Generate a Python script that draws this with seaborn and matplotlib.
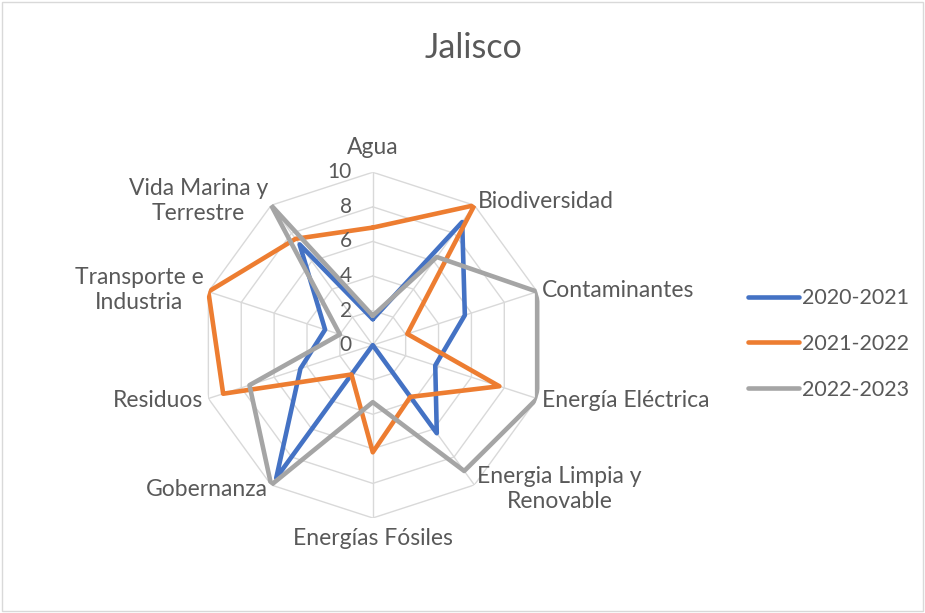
import numpy as np
import pandas as pd
import seaborn as sns
import matplotlib.pyplot as plt
from matplotlib.transforms import offset_copy
from matplotlib.patches import Rectangle

# data
categories = ['Agua', 'Biodiversidad', 'Contaminantes', 'Energía Eléctrica',
              'Energia Limpia y\nRenovable', 'Energías Fósiles', 'Gobernanza',
              'Residuos', 'Transporte e\nIndustria', 'Vida Marina y\nTerrestre']
series_names = ['2020-2021', '2021-2022', '2022-2023']
v_2020_2021 = [1.5, 8.8, 5.6, 3.8, 6.3, 0.0, 9.5, 4.4, 2.9, 7.2]
v_2021_2022 = [6.8, 10.0, 2.1, 7.7, 3.7, 6.2, 2.1, 9.1, 10.0, 7.6]
v_2022_2023 = [1.7, 6.3, 10.0, 10.0, 9.0, 3.3, 10.0, 7.5, 2.0, 10.0]
ticks = [0, 2, 4, 6, 8, 10]
colors = ['#4472C4', '#ED7D31', '#A5A5A5']

sns.set_style('white')
plt.rcParams['font.family'] = ['Lato', 'DejaVu Sans']
text_color = '#595959'

n = len(categories)
angles = np.linspace(0, 2 * np.pi, n, endpoint=False)

# long-form table, loop closed by repeating the first point
rows = []
for name, vals in zip(series_names, [v_2020_2021, v_2021_2022, v_2022_2023]):
    for i in range(n):
        rows.append({'serie': name, 'theta': angles[i], 'valor': vals[i]})
    rows.append({'serie': name, 'theta': 2 * np.pi, 'valor': vals[0]})
df = pd.DataFrame(rows)

fig = plt.figure(figsize=(9.25, 6.13), dpi=100)
ax = fig.add_axes([0.216, 0.155, 0.374, 0.564], projection='polar')
ax.set_theta_zero_location('N')
ax.set_theta_direction(-1)
ax.set_ylim(0, 10)
ax.grid(False)
ax.spines['polar'].set_visible(False)
ax.set_xticks([])
ax.set_yticks([])

# decagon grid
ring_th = np.append(angles, angles[0])
for t in ticks[1:]:
    ax.plot(ring_th, [t] * (n + 1), color='#D9D9D9', lw=1, zorder=1)
for a in angles:
    ax.plot([a, a], [0, ticks[-1]], color='#D9D9D9', lw=1, zorder=1)

sns.lineplot(data=df, x='theta', y='valor', hue='serie', palette=colors,
             sort=False, estimator=None, lw=3.3, ax=ax, zorder=3)

# radial tick labels left of the Agua axis
tick_tr = offset_copy(ax.transData, fig=fig, x=-21, y=0, units='dots')
for t in ticks:
    ax.text(0, t, str(t), transform=tick_tr, ha='right', va='center',
            fontsize=15, color=text_color)

# category labels
for a, lab in zip(angles, categories):
    deg = np.degrees(a)
    if deg < 1 or abs(deg - 180) < 1:
        ha = 'center'
    elif deg < 180:
        ha = 'left'
    else:
        ha = 'right'
    if deg < 1:
        va, r = 'bottom', 10.8
    elif abs(deg - 180) < 1:
        va, r = 'top', 10.6
    else:
        va, r = 'center', 10.3
    ax.text(a, r, lab, ha=ha, va=va, fontsize=16.5, color=text_color,
            multialignment='center', linespacing=1.2)

fig.suptitle('Jalisco', x=0.512, y=0.948, fontsize=24.5, color=text_color)

sns.move_legend(ax, 'center left', bbox_to_anchor=(0.809, 0.439),
                bbox_transform=fig.transFigure, frameon=False, title=None,
                fontsize=15.5, handlelength=2.35, handletextpad=0.15,
                labelspacing=1.2, borderpad=0, borderaxespad=0)
for txt in ax.get_legend().get_texts():
    txt.set_color(text_color)
for h in ax.get_legend().legend_handles:
    h.set_linewidth(3.3)
    h.set_solid_capstyle('round')

ax.set_xlabel('')
ax.set_ylabel('')

fig.patches.append(Rectangle((0.002, 0.003), 0.996, 0.994, transform=fig.transFigure,
                             fill=False, edgecolor='#D9D9D9', lw=1))

plt.savefig('out.png', dpi=100)
